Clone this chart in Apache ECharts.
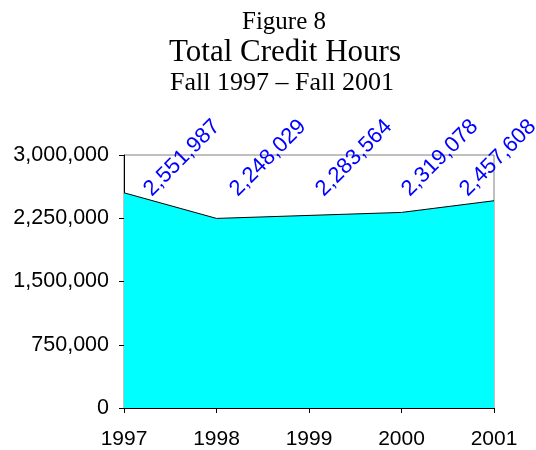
<!DOCTYPE html>
<html>
<head>
<meta charset="utf-8">
<script src="https://cdn.jsdelivr.net/npm/echarts@6/dist/echarts.min.js"></script>
<style>
  html, body { margin: 0; padding: 0; background: #fff; }
  #chart { width: 536px; height: 450px; }
</style>
</head>
<body>
<div id="chart"></div>
<script>
const years = ['1997', '1998', '1999', '2000', '2001']
const creditHours = [2551987, 2248029, 2283564, 2319078, 2457608]
const yTicks = [0, 750000, 1500000, 2250000, 3000000]

const fmt = v => v.toLocaleString('en-US')

const chart = echarts.init(document.getElementById('chart'))

const option = {
  animation: false,
  title: [
    {
      text: 'Figure 8',
      left: 279,
      top: 5,
      textAlign: 'center',
      textStyle: { fontFamily: 'Liberation Serif', fontSize: 25, fontWeight: 'normal', color: '#000' }
    },
    {
      text: 'Total Credit Hours',
      left: 280,
      top: 32,
      textAlign: 'center',
      textStyle: { fontFamily: 'Liberation Serif', fontSize: 31, fontWeight: 'normal', color: '#000' }
    },
    {
      text: 'Fall 1997 \u2013 Fall 2001',
      left: 277,
      top: 65,
      textAlign: 'center',
      textStyle: { fontFamily: 'Liberation Serif', fontSize: 26, fontWeight: 'normal', color: '#000' }
    }
  ],
  grid: {
    left: 124,
    right: 42,
    top: 155,
    bottom: 42,
    show: true,
    borderColor: '#808080',
    borderWidth: 1
  },
  xAxis: {
    type: 'category',
    boundaryGap: false,
    data: years,
    axisLine: { lineStyle: { color: '#000', width: 1 } },
    axisTick: { show: true, length: 5, lineStyle: { color: '#000' } },
    axisLabel: {
      color: '#000',
      fontFamily: 'Liberation Sans',
      fontSize: 21,
      margin: 21
    },
    splitLine: { show: false }
  },
  yAxis: {
    type: 'value',
    min: yTicks[0],
    max: yTicks[yTicks.length - 1],
    interval: yTicks[1] - yTicks[0],
    axisLine: { show: true, lineStyle: { color: '#000', width: 1 } },
    axisTick: { show: true, length: 5, lineStyle: { color: '#000' } },
    axisLabel: {
      color: '#000',
      fontFamily: 'Liberation Sans',
      fontSize: 21.5,
      margin: 15,
      formatter: v => fmt(v)
    },
    splitLine: { show: false }
  },
  series: [
    {
      type: 'line',
      data: creditHours,
      symbol: 'circle',
      symbolSize: 1,
      itemStyle: { color: 'rgba(0,0,0,0)' },
      lineStyle: { color: '#000', width: 1 },
      areaStyle: { color: '#00ffff', opacity: 1 },
      label: {
        show: true,
        color: '#0000ff',
        fontFamily: 'Liberation Sans',
        fontSize: 22,
        rotate: 45,
        align: 'center',
        verticalAlign: 'middle',
        formatter: p => fmt(p.value)
      }
    }
  ],
  labelLayout: params => {
    const px = params.rect.x + params.rect.width / 2
    // labels sit in a band above the plot, shifted right, kept inside the canvas
    const x = Math.min(px + 58 - 6.5 * params.dataIndex, 498)
    return { x: x, y: 158, align: 'center', verticalAlign: 'middle', rotate: 45 }
  }
}

chart.setOption(option)
</script>
</body>
</html>
